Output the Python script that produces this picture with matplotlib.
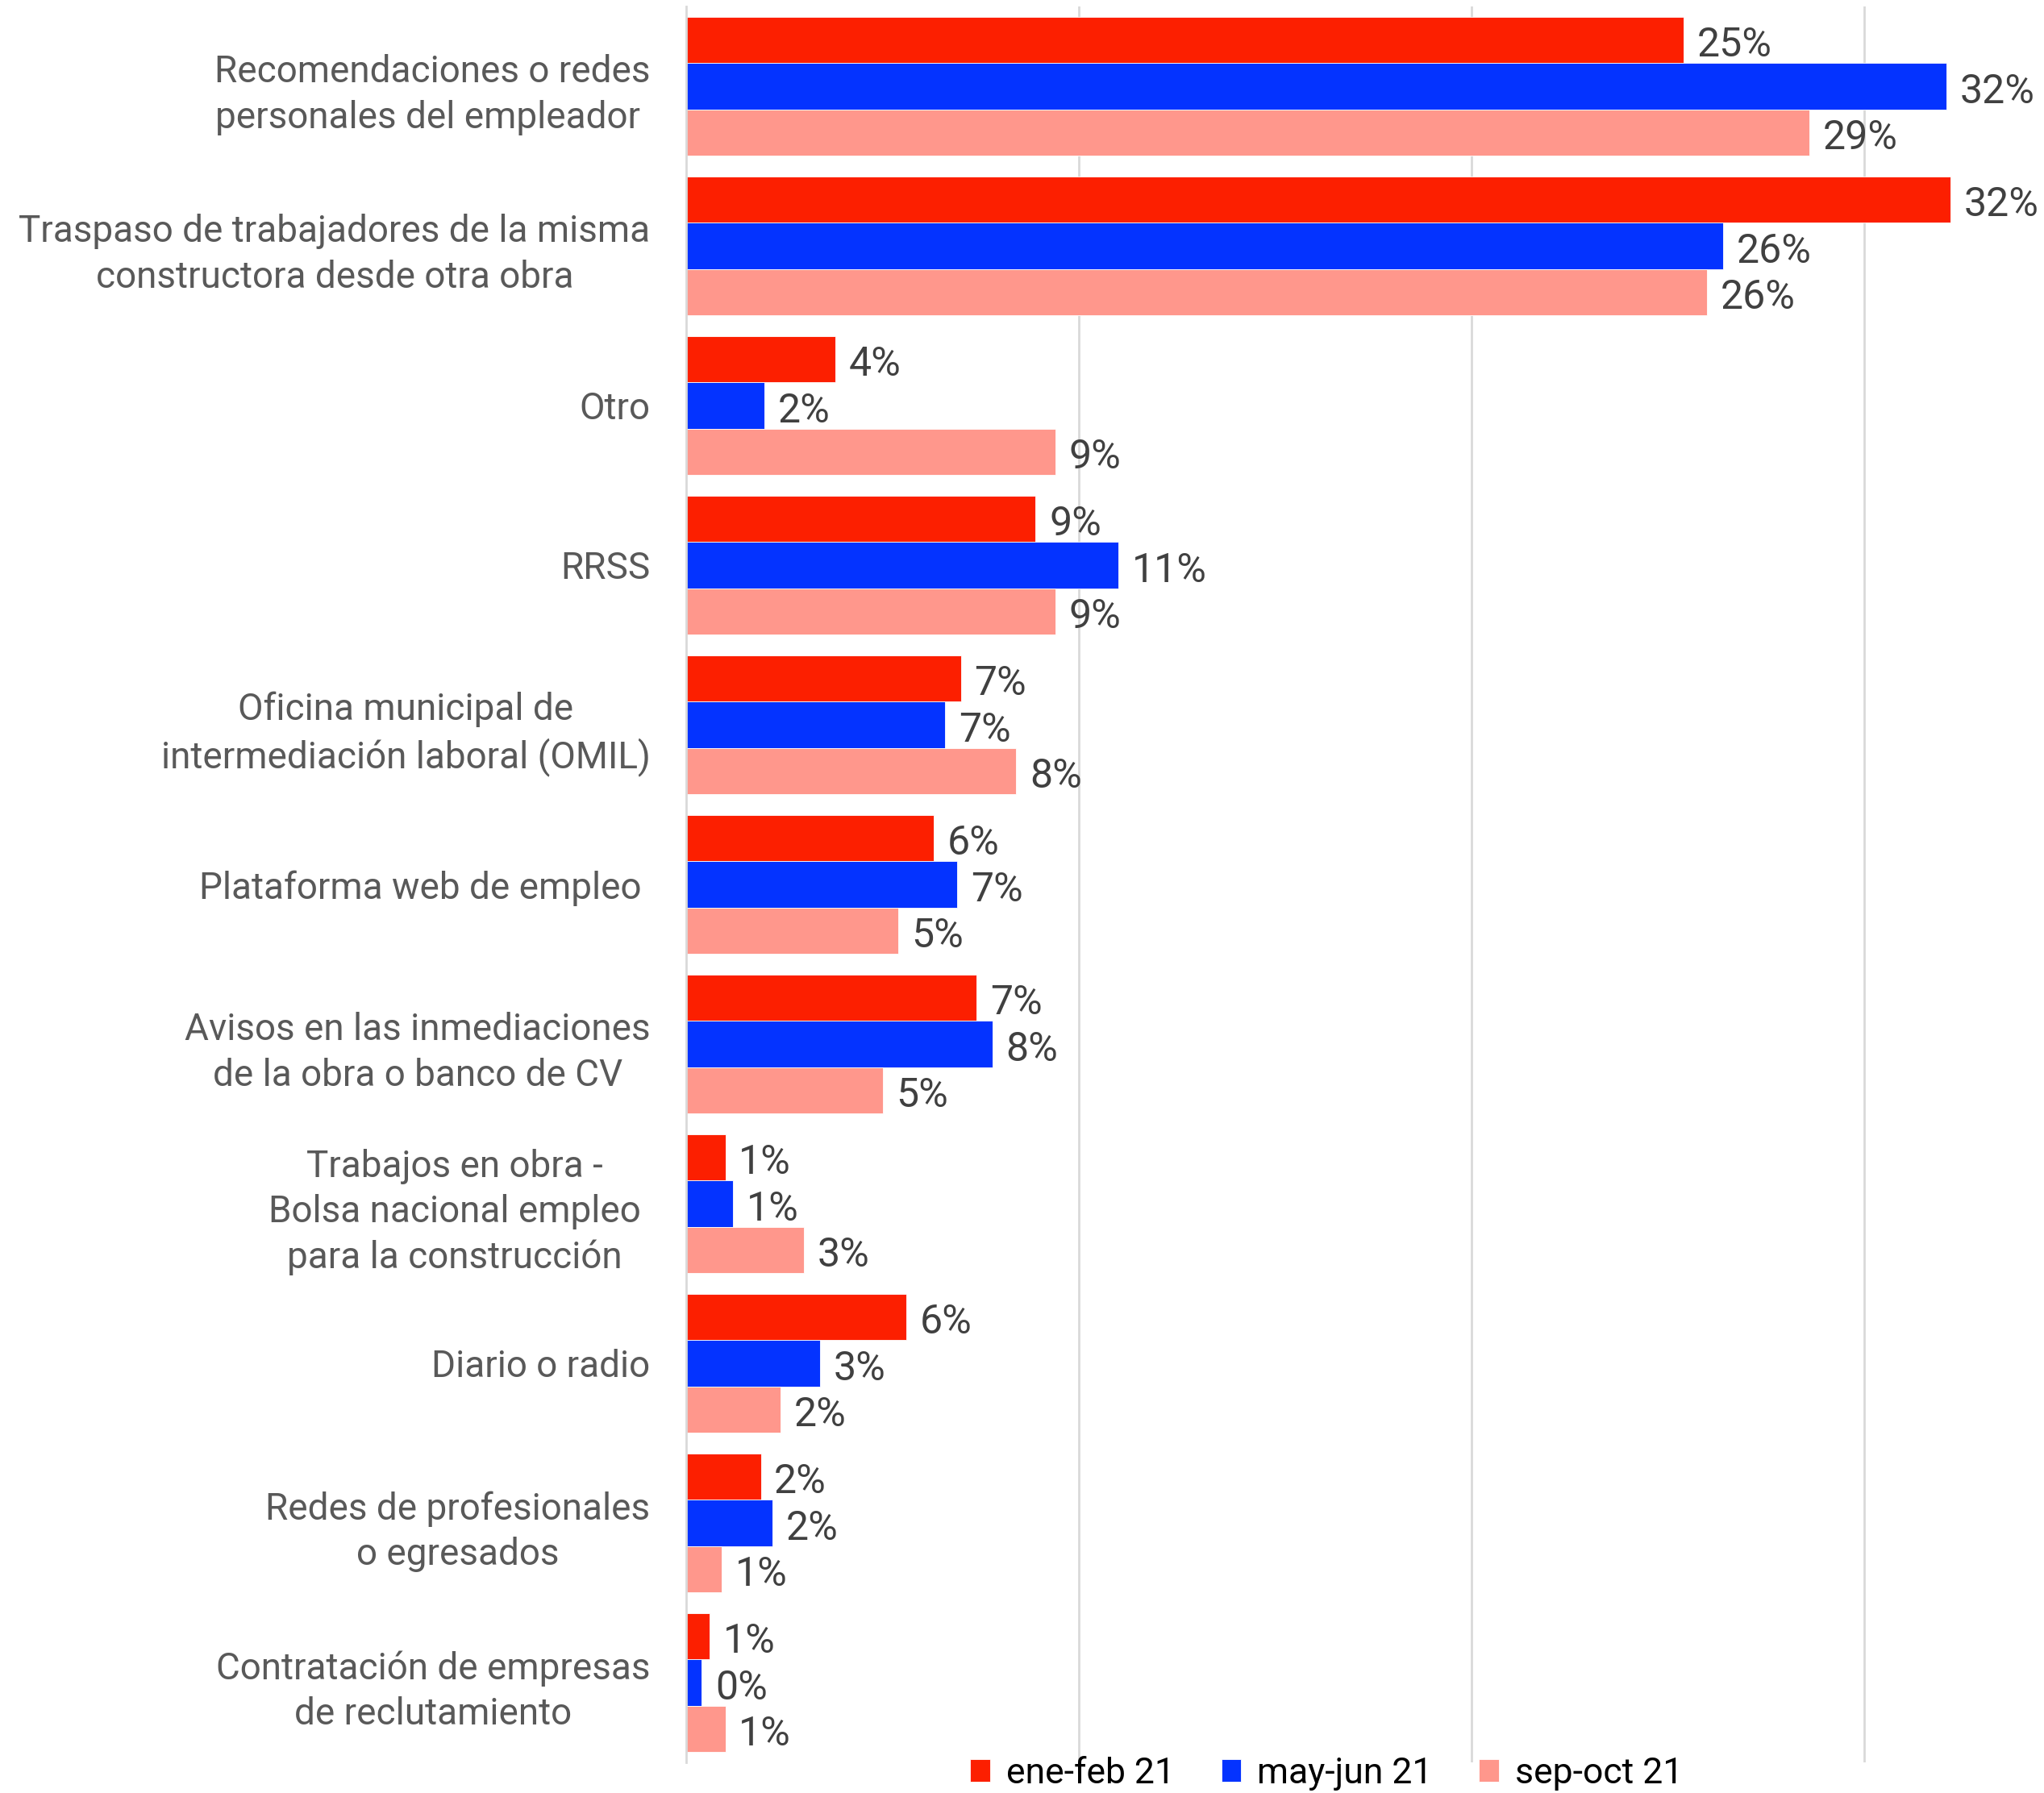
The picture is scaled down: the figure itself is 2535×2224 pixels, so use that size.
import matplotlib.pyplot as plt
import numpy as np

plt.rcParams['font.family'] = ['Roboto', 'DejaVu Sans']

categories = [
    "Recomendaciones o redes\npersonales del empleador ",
    "Traspaso de trabajadores de la misma\nconstructora desde otra obra",
    "Otro",
    "RRSS",
    "Oficina municipal de\nintermediación laboral (OMIL)",
    "Plataforma web de empleo ",
    "Avisos en las inmediaciones\nde la obra o banco de CV",
    "Trabajos en obra - \nBolsa nacional empleo \npara la construcción ",
    "Diario o radio",
    "Redes de profesionales\no egresados",
    "Contratación de empresas\nde reclutamiento",
]

series_names = ["ene-feb 21", "may-jun 21", "sep-oct 21"]

# percentages per period, same order as categories
ene_feb = [25.4, 32.2, 3.8, 8.9, 7.0, 6.3, 7.4, 1.0, 5.6, 1.9, 0.6]
may_jun = [32.1, 26.4, 2.0, 11.0, 6.6, 6.9, 7.8, 1.2, 3.4, 2.2, 0.4]
sep_oct = [28.6, 26.0, 9.4, 9.4, 8.4, 5.4, 5.0, 3.0, 2.4, 0.9, 1.0]

colors = ["#FC1F00", "#0433FF", "#FF978C"]

fig = plt.figure(figsize=(25.35, 22.24), dpi=100)
ax = fig.add_axes([0.3357, 0.0171, 0.6532, 0.9794])

y = np.arange(len(categories))
h = 0.29
for k, (vals, col, name) in enumerate(zip([ene_feb, may_jun, sep_oct], colors, series_names)):
    pos = y + (k - 1) * h
    ax.barh(pos, vals, height=h, color=col, label=name, edgecolor='white', linewidth=0.6)
    for p, v in zip(pos, vals):
        ax.annotate(f"{v:.0f}%", (v, p), xytext=(12, -5), textcoords='offset points',
                    va='center', ha='left', fontsize=36, color='#404040',
                    annotation_clip=False)

ax.set_xlim(0, 34)
ax.set_ylim(len(categories) - 0.5, -0.5)
ax.set_xticks([10, 20, 30])
ax.set_xticklabels([])
ax.set_yticks(y)
ax.set_yticklabels(categories, fontsize=33, color='#595959', multialignment='center',
                   linespacing=1.35)
ax.tick_params(axis='y', length=0, pad=32)
ax.tick_params(axis='x', length=0)
ax.grid(axis='x', color='#D9D9D9', linewidth=2)
ax.set_axisbelow(True)
for s in ['top', 'right', 'bottom']:
    ax.spines[s].set_visible(False)
ax.spines['left'].set_color('#D9D9D9')
ax.spines['left'].set_linewidth(2)

fig.legend(loc='center', bbox_to_anchor=(0.649, 0.011), ncol=3, frameon=False,
           fontsize=32, handlelength=0.55, handleheight=0.6, handletextpad=0.45,
           columnspacing=1.3, borderpad=0)

fig.savefig("out.png", dpi=100)
